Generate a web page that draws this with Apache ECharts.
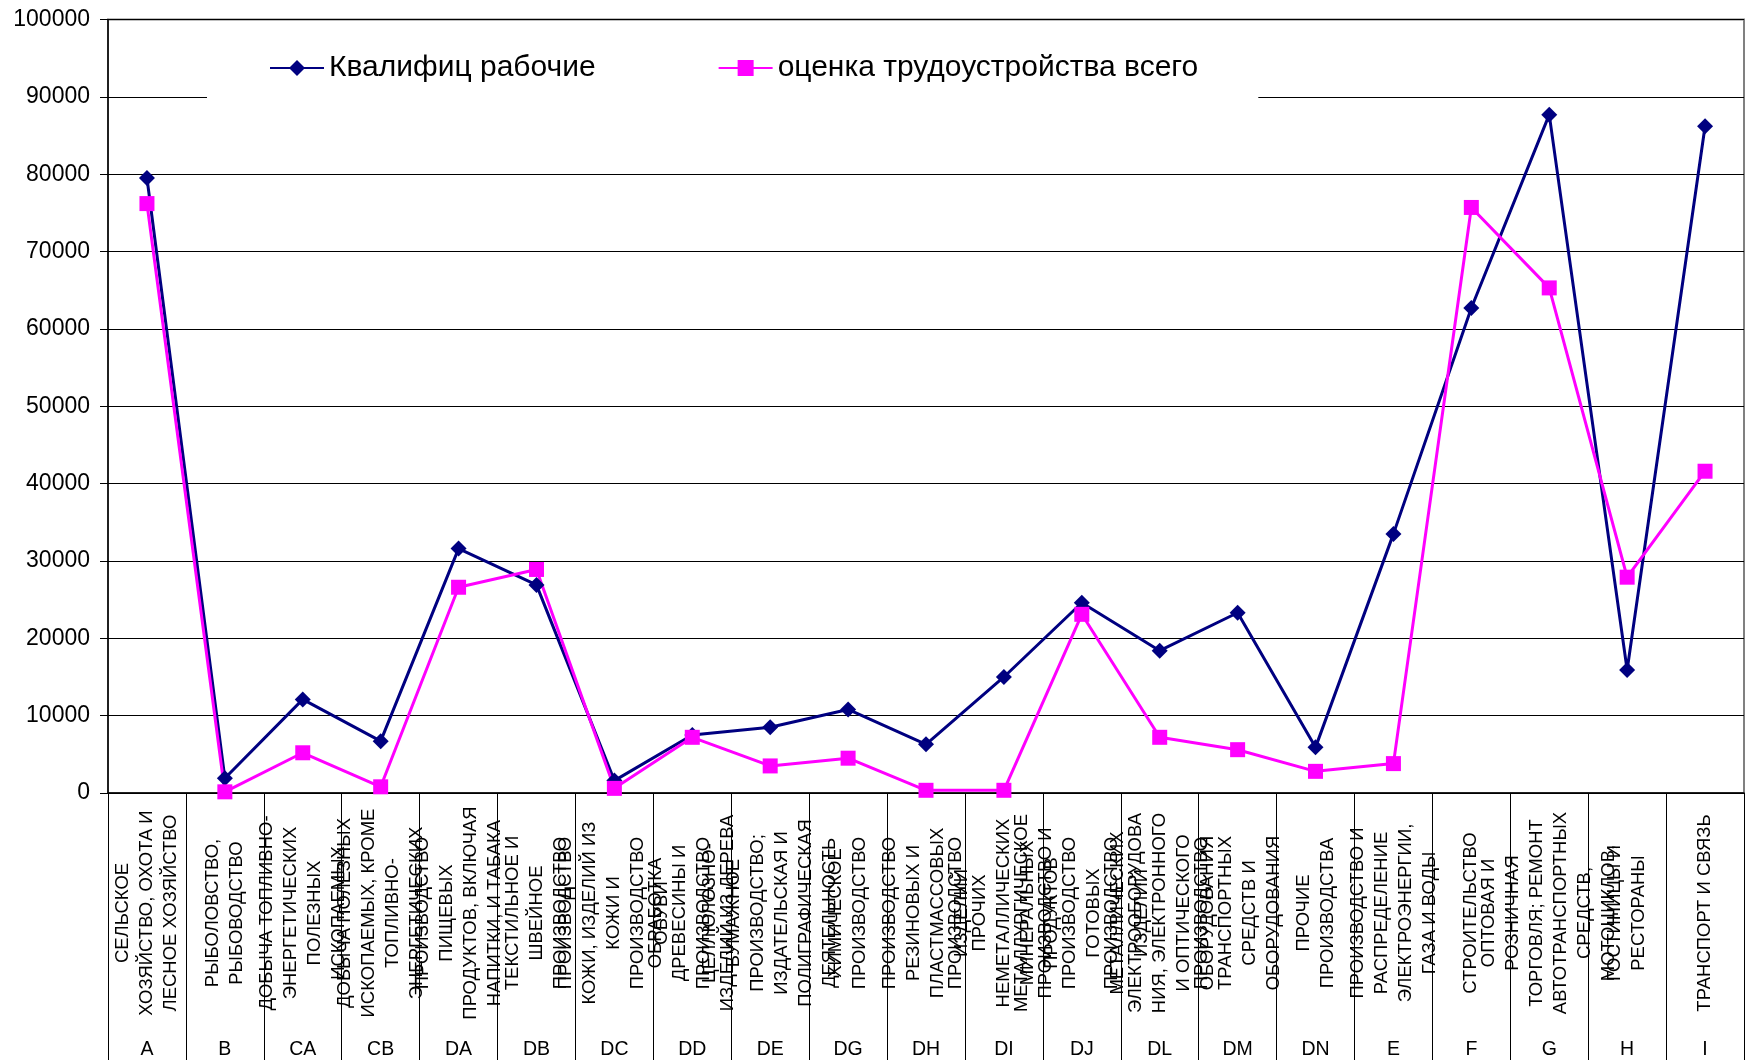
<!DOCTYPE html>
<html>
<head>
<meta charset="utf-8">
<script src="https://cdn.jsdelivr.net/npm/echarts@6/dist/echarts.min.js"></script>
<style>
html,body{margin:0;padding:0;background:#fff;}
#chart{width:1746px;height:1063px;}
</style>
</head>
<body>
<div id="chart"></div>
<script>
const codes = ['A','B','CA','CB','DA','DB','DC','DD','DE','DG','DH','DI','DJ','DL','DM','DN','E','F','G','H','I'];
const names = [
  'СЕЛЬСКОЕ\nХОЗЯЙСТВО, ОХОТА И\nЛЕСНОЕ ХОЗЯЙСТВО',
  'РЫБОЛОВСТВО,\nРЫБОВОДСТВО',
  'ДОБЫЧА ТОПЛИВНО-\nЭНЕРГЕТИЧЕСКИХ\nПОЛЕЗНЫХ\nИСКОПАЕМЫХ',
  'ДОБЫЧА ПОЛЕЗНЫХ\nИСКОПАЕМЫХ, КРОМЕ\nТОПЛИВНО-\nЭНЕРГЕТИЧЕСКИХ',
  'ПРОИЗВОДСТВО\nПИЩЕВЫХ\nПРОДУКТОВ, ВКЛЮЧАЯ\nНАПИТКИ, И ТАБАКА',
  'ТЕКСТИЛЬНОЕ И\nШВЕЙНОЕ\nПРОИЗВОДСТВО',
  'ПРОИЗВОДСТВО\nКОЖИ, ИЗДЕЛИЙ ИЗ\nКОЖИ И\nПРОИЗВОДСТВО\nОБУВИ',
  'ОБРАБОТКА\nДРЕВЕСИНЫ И\nПРОИЗВОДСТВО\nИЗДЕЛИЙ ИЗ ДЕРЕВА',
  'ЦЕЛЛЮЛОЗНО-\nБУМАЖНОЕ\nПРОИЗВОДСТВО;\nИЗДАТЕЛЬСКАЯ И\nПОЛИГРАФИЧЕСКАЯ\nДЕЯТЕЛЬНОСТЬ',
  'ХИМИЧЕСКОЕ\nПРОИЗВОДСТВО',
  'ПРОИЗВОДСТВО\nРЕЗИНОВЫХ И\nПЛАСТМАССОВЫХ\nИЗДЕЛИЙ',
  'ПРОИЗВОДСТВО\nПРОЧИХ\nНЕМЕТАЛЛИЧЕСКИХ\nМИНЕРАЛЬНЫХ\nПРОДУКТОВ',
  'МЕТАЛЛУРГИЧЕСКОЕ\nПРОИЗВОДСТВО И\nПРОИЗВОДСТВО\nГОТОВЫХ\nМЕТАЛЛИЧЕСКИХ\nИЗДЕЛИЙ',
  'ПРОИЗВОДСТВО\nЭЛЕКТРООБОРУДОВА\nНИЯ, ЭЛЕКТРОННОГО\nИ ОПТИЧЕСКОГО\nОБОРУДОВАНИЯ',
  'ПРОИЗВОДСТВО\nТРАНСПОРТНЫХ\nСРЕДСТВ И\nОБОРУДОВАНИЯ',
  'ПРОЧИЕ\nПРОИЗВОДСТВА',
  'ПРОИЗВОДСТВО И\nРАСПРЕДЕЛЕНИЕ\nЭЛЕКТРОЭНЕРГИИ,\nГАЗА И ВОДЫ',
  'СТРОИТЕЛЬСТВО',
  'ОПТОВАЯ И\nРОЗНИЧНАЯ\nТОРГОВЛЯ; РЕМОНТ\nАВТОТРАНСПОРТНЫХ\nСРЕДСТВ,\nМОТОЦИКЛОВ,',
  'ГОСТИНИЦЫ И\nРЕСТОРАНЫ',
  'ТРАНСПОРТ И СВЯЗЬ'
];
const seriesNames = ['Квалифиц рабочие', 'оценка трудоустройства всего'];
const qualified = [79500, 1900, 12100, 6700, 31600, 26900, 1600, 7500, 8500, 10800, 6300, 15000, 24600, 18400, 23300, 5900, 33500, 62700, 87700, 15900, 86200];
const employment = [76200, 150, 5200, 800, 26600, 28900, 600, 7200, 3500, 4500, 350, 350, 23100, 7200, 5600, 2800, 3800, 75700, 65300, 27900, 41600];
const yMin = 0, yMax = 100000, yStep = 10000;

const FONT = 'Liberation Sans, Arial, sans-serif';
const chart = echarts.init(document.getElementById('chart'), null, {renderer: 'canvas'});
chart.setOption({
  animation: false,
  backgroundColor: '#fff',
  textStyle: {fontFamily: FONT, color: '#000'},
  grid: [
    {left: 108, right: 2, top: 19.5, bottom: 270, show: true, borderColor: '#808080', borderWidth: 2, backgroundColor: 'transparent', containLabel: false, outerBoundsMode: 'none'},
    {left: 108, right: 2, top: 793, height: 257, show: false, containLabel: false, outerBoundsMode: 'none'}
  ],
  legend: {
    data: seriesNames,
    left: 207,
    top: 24,
    orient: 'horizontal',
    backgroundColor: '#fff',
    padding: [29, 60, 16, 62],
    itemGap: 122,
    itemWidth: 54,
    itemHeight: 20,
    z: 10,
    textStyle: {fontFamily: FONT, fontSize: 30, color: '#000', lineHeight: 30}
  },
  xAxis: [
    {
      type: 'category',
      gridIndex: 0,
      data: names,
      boundaryGap: true,
      axisLine: {show: true, lineStyle: {color: '#000', width: 1.5}},
      axisTick: {show: true, interval: 0, length: 267, lineStyle: {color: '#000', width: 1}},
      axisLabel: {
        interval: 0, rotate: 90, margin: 120,
        align: 'center', verticalAlign: 'middle',
        fontFamily: FONT, fontSize: 18.5, lineHeight: 24, color: '#000'
      },
      splitLine: {show: false}
    },
    {
      type: 'category',
      gridIndex: 1,
      position: 'bottom',
      data: codes,
      boundaryGap: true,
      axisLine: {show: false},
      axisTick: {show: false},
      axisLabel: {interval: 0, margin: 0, verticalAlign: 'middle', fontFamily: FONT, fontSize: 19.5, color: '#000'},
      splitLine: {show: false}
    }
  ],
  yAxis: [
    {
      type: 'value',
      gridIndex: 0,
      min: yMin, max: yMax, interval: yStep,
      axisLine: {show: true, lineStyle: {color: '#000', width: 1.5}},
      axisTick: {show: true, length: 8, lineStyle: {color: '#000'}},
      axisLabel: {margin: 18, fontFamily: FONT, fontSize: 23, color: '#000', formatter: function (v) { return String(v); }},
      splitLine: {show: true, lineStyle: {color: '#000', width: 1}}
    },
    {
      type: 'value',
      gridIndex: 1,
      show: false
    }
  ],
  series: [
    {
      name: seriesNames[0],
      type: 'line',
      xAxisIndex: 0, yAxisIndex: 0,
      data: qualified,
      symbol: 'diamond',
      symbolSize: 16,
      showAllSymbol: true,
      lineStyle: {color: '#000080', width: 3},
      itemStyle: {color: '#000080'}
    },
    {
      name: seriesNames[1],
      type: 'line',
      xAxisIndex: 0, yAxisIndex: 0,
      data: employment,
      symbol: 'rect',
      symbolSize: 15,
      showAllSymbol: true,
      lineStyle: {color: '#FF00FF', width: 3},
      itemStyle: {color: '#FF00FF'}
    }
  ]
});
</script>
</body>
</html>
